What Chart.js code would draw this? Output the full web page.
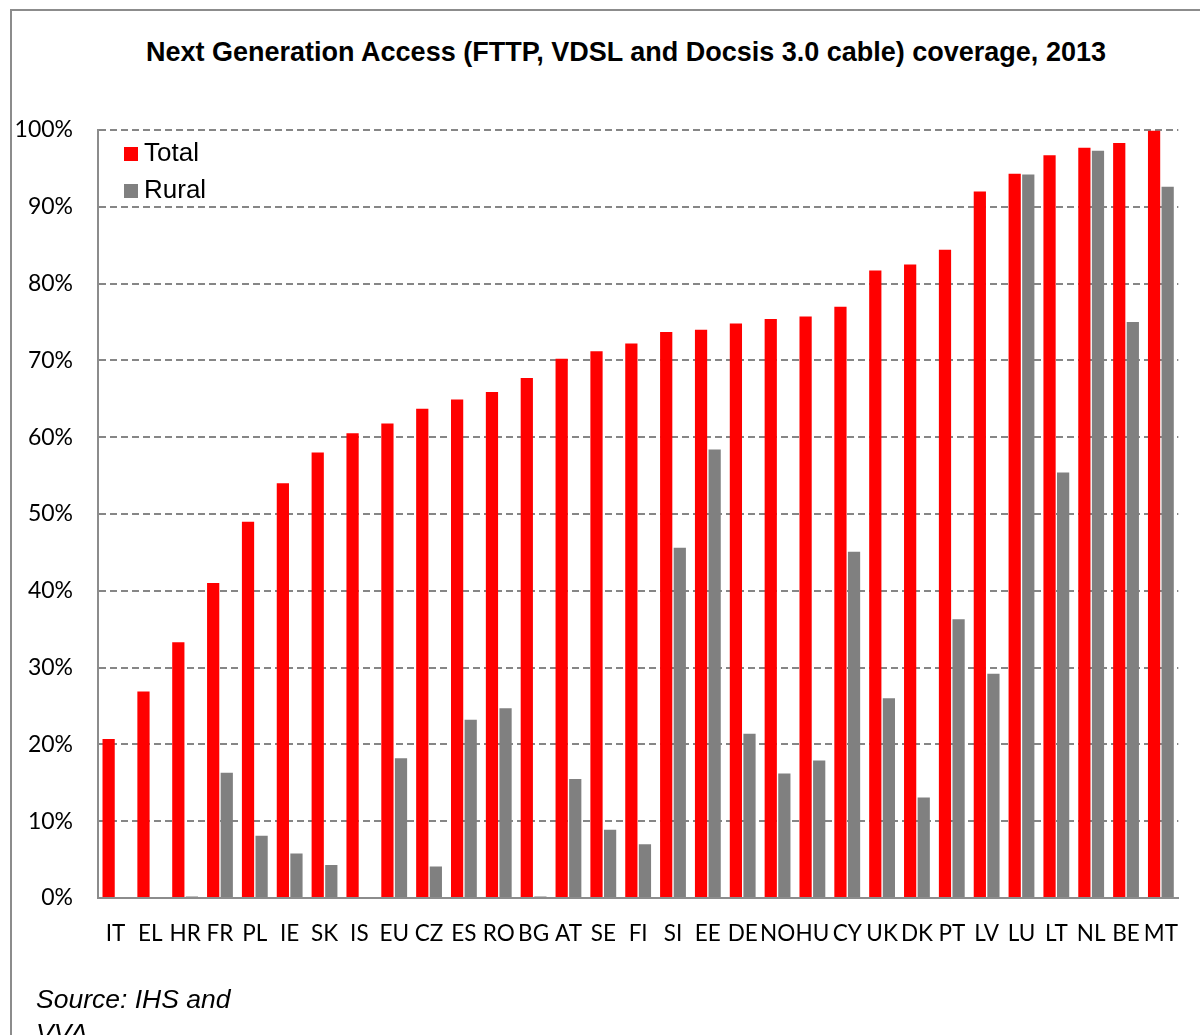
<!DOCTYPE html>
<html><head><meta charset="utf-8">
<script src="https://cdn.jsdelivr.net/npm/chart.js@4"></script>
<style>
html,body{margin:0;padding:0;background:#fff;width:1200px;height:1035px;overflow:hidden}
#frame{position:absolute;left:10px;top:9px;width:1300px;height:1100px;border:2px solid #8c8c8c;box-sizing:border-box}
#title{position:absolute;left:0;width:1252px;top:39px;text-align:center;font:bold 27px/27px "Liberation Sans",Arial,sans-serif;color:#000;white-space:nowrap}
#source{position:absolute;left:36px;top:982px;font:italic 26.5px/34px "Liberation Sans",Arial,sans-serif;color:#000}
canvas{position:absolute;left:0;top:0}
</style></head>
<body>
<div id="frame"></div>
<div id="title">Next Generation Access (FTTP, VDSL and Docsis 3.0 cable) coverage, 2013</div>
<canvas id="c" width="1200" height="1035"></canvas>
<div id="source">Source: IHS and<br>VVA</div>
<script>
const categories = ['IT','EL','HR','FR','PL','IE','SK','IS','EU','CZ','ES','RO','BG','AT','SE','FI','SI','EE','DE','NO','HU','CY','UK','DK','PT','LV','LU','LT','NL','BE','MT'];
const totalValues = [20.7,26.9,33.3,41.0,49.0,54.0,58.0,60.5,61.8,63.7,64.9,65.9,67.7,70.2,71.2,72.2,73.7,74.0,74.8,75.4,75.7,77.0,81.7,82.5,84.4,92.0,94.3,96.7,97.7,98.3,99.9];
const ruralValues = [0,0,0.2,16.3,8.1,5.8,4.3,0,18.2,4.1,23.2,24.7,0.2,15.5,8.9,7.0,45.6,58.4,21.4,16.2,17.9,45.1,26.0,13.1,36.3,29.2,94.2,55.4,97.3,75.0,92.6];
const yTicks = [0,10,20,30,40,50,60,70,80,90,100];

const legendPlugin = {
  id: 'insideLegend',
  afterDraw(chart) {
    const ctx = chart.ctx;
    ctx.save();
    ctx.font = '26px "Liberation Sans", Arial, sans-serif';
    ctx.textBaseline = 'middle';
    chart.data.datasets.forEach((ds, i) => {
      const y = 154 + i * 37;
      ctx.fillStyle = ds.backgroundColor;
      ctx.fillRect(124, y - 7, 14, 14);
      ctx.fillStyle = '#000';
      ctx.fillText(ds.label, 144, y);
    });
    ctx.restore();
  }
};

new Chart(document.getElementById('c'), {
  type: 'bar',
  data: {
    labels: categories,
    datasets: [
      {label: 'Total', data: totalValues, backgroundColor: '#ff0000', categoryPercentage: 0.78, barPercentage: 0.9},
      {label: 'Rural', data: ruralValues, backgroundColor: '#808080', categoryPercentage: 0.78, barPercentage: 0.9}
    ]
  },
  options: {
    responsive: false,
    animation: false,
    layout: {padding: {top: 130, left: 0, right: 2, bottom: 0}},
    plugins: {legend: {display: false}, title: {display: false}, tooltip: {enabled: false}},
    scales: {
      x: {
        grid: {display: false, drawTicks: false},
        border: {display: true, color: '#8c8c8c', width: 2},
        ticks: {color: '#000', font: {family: 'Lato', size: 22.5}, padding: 22, maxRotation: 0, autoSkip: false},
        afterFit(s) { s.height = 137; }
      },
      y: {
        min: 0, max: 100,
        afterBuildTicks(s) { s.ticks = yTicks.map(v => ({value: v})); },
        grid: {color: '#868686', lineWidth: 2, drawTicks: false},
        border: {display: true, color: '#8c8c8c', width: 2, dash: [7, 4]},
        ticks: {color: '#000', font: {family: 'Lato', size: 23}, padding: 25, callback: v => v + '%'},
        afterFit(s) { s.width = 98; }
      }
    }
  },
  plugins: [legendPlugin]
});
</script>
</body></html>
